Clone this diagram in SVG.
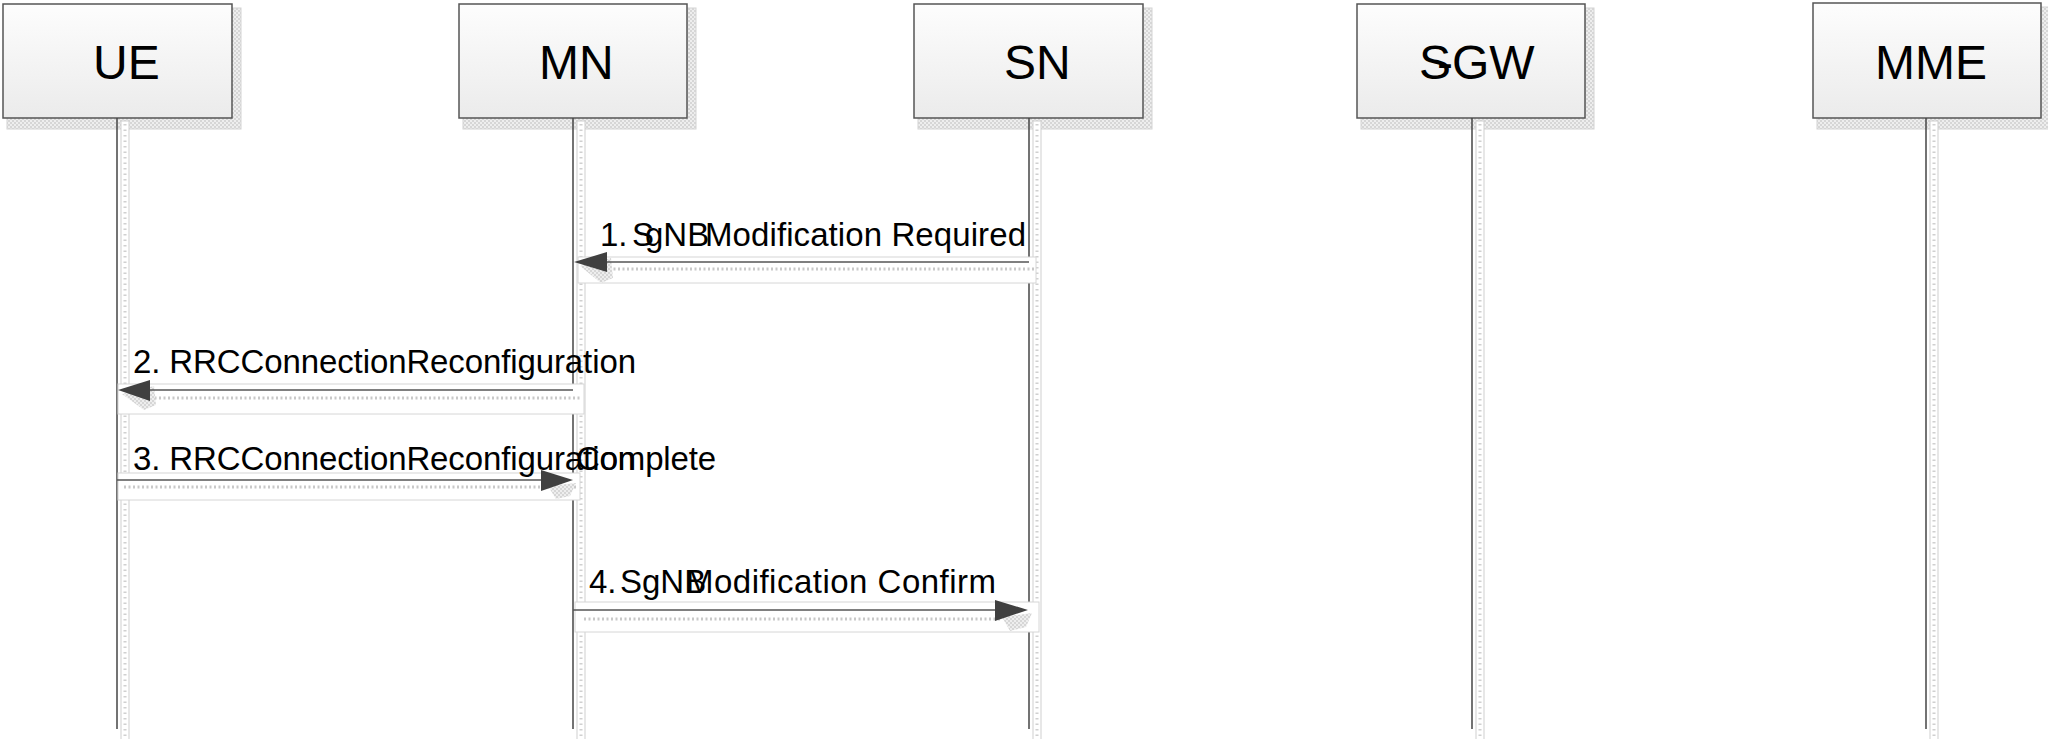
<svg xmlns="http://www.w3.org/2000/svg" width="2048" height="739" viewBox="0 0 2048 739">
<style>
.box{fill:url(#boxgrad);stroke:#555;stroke-width:1.5}
.shadow{fill:url(#dots);stroke:#d4d4d4;stroke-width:1}
.lbl{font-family:"Liberation Sans",Arial,sans-serif;font-size:48px;fill:#000}
.msg{font-family:"Liberation Sans",Arial,sans-serif;font-size:33px;fill:#000}
.life{stroke:#444;stroke-width:1.5}
.lshadow{fill:#fff;stroke:#cfcfcf;stroke-width:1}
.ldots{stroke:#d0d0d0;stroke-width:3;stroke-dasharray:1.5 4}
.arrow{stroke:#555;stroke-width:1.5;fill:none}
.head{fill:#404040}
.hshadow{fill:url(#dots)}
.ashadow{fill:#fff;stroke:#d6d6d6;stroke-width:1}
.adots{stroke:#c8c8c8;stroke-width:3;stroke-dasharray:2 2.5}
</style>
<defs>
<linearGradient id="boxgrad" x1="0" y1="0" x2="0" y2="1">
<stop offset="0" stop-color="#fdfdfd"/>
<stop offset="1" stop-color="#ebebeb"/>
</linearGradient>
<pattern id="dots" width="4" height="4" patternUnits="userSpaceOnUse">
<rect width="4" height="4" fill="#eeeeee"/>
<rect width="2" height="2" fill="#d6d6d6"/>
<rect x="2" y="2" width="2" height="2" fill="#d6d6d6"/>
</pattern>
</defs>
<rect width="2048" height="739" fill="#fff"/>

<g id="node-UE">
<rect class="shadow" x="7" y="8" width="234" height="121"/>
<rect class="box" x="3" y="4" width="229" height="114"/>
<text class="lbl" x="93" y="79">UE</text>
</g>
<g id="node-MN">
<rect class="shadow" x="463" y="8" width="233" height="121"/>
<rect class="box" x="459" y="4" width="228" height="114"/>
<text class="lbl" x="539" y="79">MN</text>
</g>
<g id="node-SN">
<rect class="shadow" x="918" y="8" width="234" height="121"/>
<rect class="box" x="914" y="4" width="229" height="114"/>
<text class="lbl" x="1004" y="79">SN</text>
</g>
<g id="node-SGW">
<rect class="shadow" x="1361" y="8" width="233" height="121"/>
<rect class="box" x="1357" y="4" width="228" height="114"/>
<text class="lbl" y="79"><tspan x="1419">S</tspan><tspan x="1437">-</tspan><tspan x="1452">GW</tspan></text>
</g>
<g id="node-MME">
<rect class="shadow" x="1817" y="7" width="233" height="122"/>
<rect class="box" x="1813" y="3" width="228" height="115"/>
<text class="lbl" x="1875" y="79">MME</text>
</g>

<g id="lifelines">
<rect class="lshadow" x="121" y="121" width="8" height="620"/>
<line class="ldots" x1="125" y1="124" x2="125" y2="739"/>
<rect class="lshadow" x="577" y="121" width="8" height="620"/>
<line class="ldots" x1="581" y1="124" x2="581" y2="739"/>
<rect class="lshadow" x="1033" y="121" width="8" height="620"/>
<line class="ldots" x1="1037" y1="124" x2="1037" y2="739"/>
<rect class="lshadow" x="1476" y="121" width="8" height="620"/>
<line class="ldots" x1="1480" y1="124" x2="1480" y2="739"/>
<rect class="lshadow" x="1930" y="121" width="8" height="620"/>
<line class="ldots" x1="1934" y1="124" x2="1934" y2="739"/>
<line class="life" x1="117" y1="118" x2="117" y2="729"/>
<line class="life" x1="573" y1="118" x2="573" y2="729"/>
<line class="life" x1="1029" y1="118" x2="1029" y2="729"/>
<line class="life" x1="1472" y1="118" x2="1472" y2="729"/>
<line class="life" x1="1926" y1="118" x2="1926" y2="729"/>
</g>

<g id="connectors">
<g id="msg1">
<rect class="ashadow" x="578" y="257" width="458" height="26"/>
<line class="adots" x1="600" y1="269" x2="1034" y2="269"/>
<polygon class="hshadow" points="580,266 611,258 613,278 601,283"/>
<line class="arrow" x1="1029" y1="262" x2="600" y2="262"/>
<polygon class="head" points="574,262 607,252 607,272"/>
<text class="msg" y="246"><tspan x="600">1.</tspan><tspan x="632">S</tspan><tspan x="645">gNB</tspan><tspan x="705" textLength="321" lengthAdjust="spacing">Modification Required</tspan></text>
</g>
<g id="msg2">
<rect class="ashadow" x="118" y="384" width="466" height="30"/>
<line class="adots" x1="150" y1="398" x2="582" y2="398"/>
<polygon class="hshadow" points="122,394 154,386 156,405 144,410"/>
<line class="arrow" x1="573" y1="390" x2="145" y2="390"/>
<polygon class="head" points="118,390 150,380 150,401"/>
<text class="msg" x="133" y="373" textLength="503" lengthAdjust="spacing">2. RRCConnectionReconfiguration</text>
</g>
<g id="msg3">
<rect class="ashadow" x="118" y="473" width="462" height="27"/>
<line class="adots" x1="124" y1="487" x2="576" y2="487"/>
<polygon class="hshadow" points="548,486 576,483 570,496 556,499"/>
<line class="arrow" x1="117" y1="480" x2="545" y2="480"/>
<polygon class="head" points="573,480 541,470 541,491"/>
<text class="msg" y="470"><tspan x="133" textLength="503" lengthAdjust="spacing">3. RRCConnectionReconfiguration</tspan><tspan x="576" textLength="140" lengthAdjust="spacing">Complete</tspan></text>
</g>
<g id="msg4">
<rect class="ashadow" x="575" y="602" width="464" height="30"/>
<line class="adots" x1="584" y1="619" x2="1000" y2="619"/>
<polygon class="hshadow" points="1002,617 1032,613 1026,627 1010,631"/>
<line class="arrow" x1="573" y1="610" x2="1000" y2="610"/>
<polygon class="head" points="1028,610 995,600 995,621"/>
<text class="msg" y="593"><tspan x="589">4.</tspan><tspan x="620">SgNB</tspan><tspan x="686" textLength="310" lengthAdjust="spacing">Modification Confirm</tspan></text>
</g>
</g>
</svg>
